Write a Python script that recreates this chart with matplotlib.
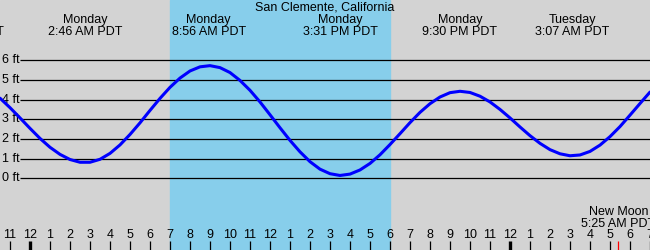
#!/usr/bin/env python3
# -*- coding: utf-8 -*-
"""
San Clemente tide chart: tide height (ft) vs hour, day shading, hour ticks.
"""
import matplotlib
matplotlib.use('Agg')
import matplotlib.pyplot as plt

# hours since Monday 00:00, half-hour steps
hours = [-1.5, -1.0, -0.5, 0.0, 0.5, 1.0, 1.5, 2.0, 2.5, 3.0, 3.5, 4.0, 4.5,
         5.0, 5.5, 6.0, 6.5, 7.0, 7.5, 8.0, 8.5, 9.0, 9.5, 10.0, 10.5, 11.0,
         11.5, 12.0, 12.5, 13.0, 13.5, 14.0, 14.5, 15.0, 15.5, 16.0, 16.5,
         17.0, 17.5, 18.0, 18.5, 19.0, 19.5, 20.0, 20.5, 21.0, 21.5, 22.0,
         22.5, 23.0, 23.5, 24.0, 24.5, 25.0, 25.5, 26.0, 26.5, 27.0, 27.5,
         28.0, 28.5, 29.0, 29.5, 30.0, 30.5, 31.0]
height_ft = [4.07, 3.59, 3.07, 2.54, 2.03, 1.58, 1.22, 0.96, 0.82, 0.82, 0.97,
             1.27, 1.70, 2.23, 2.82, 3.45, 4.06, 4.62, 5.09, 5.45, 5.66, 5.72,
             5.62, 5.37, 4.97, 4.47, 3.88, 3.23, 2.57, 1.93, 1.35, 0.85, 0.47,
             0.24, 0.15, 0.22, 0.43, 0.76, 1.20, 1.72, 2.27, 2.83, 3.35, 3.79,
             4.13, 4.35, 4.42, 4.36, 4.17, 3.88, 3.50, 3.07, 2.61, 2.17, 1.78,
             1.46, 1.25, 1.15, 1.19, 1.37, 1.69, 2.12, 2.63, 3.21, 3.80, 4.38]

# high / low tide labels (hour, day, time)
event_hours = [-3.2, 2.77, 8.93, 15.52, 21.5, 27.12]
event_days = ['Sunday', 'Monday', 'Monday', 'Monday', 'Monday', 'Tuesday']
event_times = ['8:48 PM PDT', '2:46 AM PDT', '8:56 AM PDT', '3:31 PM PDT',
               '9:30 PM PDT', '3:07 AM PDT']

daylight = (7.0, 18.0)
ft_levels = [0, 1, 2, 3, 4, 5, 6]
tick_hours = list(range(-1, 32))
midnights = [0, 24]
moon_hour = 29.42
moon_text = 'New Moon\n5:25 AM PDT'
title = 'San Clemente, California'

W, H = 650, 250
FONT = 'Liberation Sans'


def fy(p):
    # pixel row -> axes fraction
    return 1 - p / H


fig = plt.figure(figsize=(W / 100, H / 100), dpi=100)
ax = fig.add_axes([0, 0, 1, 1])
ax.set_facecolor('#d3d3d3')
ax.set_xlim(-1.5, 31.0)
ax.set_ylim(-3.63, 9.05)
ax.axis('off')
ax.add_patch(plt.Rectangle((0, 0), 1, 1, transform=ax.transAxes,
                           color='#d3d3d3', zorder=0))

# daylight band
ax.axvspan(daylight[0], daylight[1], color='#87ceeb', zorder=1)

# ft grid lines + labels
for lv in ft_levels:
    ax.hlines(lv, -0.5, 31.0, color='black', lw=0.9, zorder=2)
    ax.text(-1.4, lv, f'{lv} ft', ha='left', va='center', fontsize=9,
            family=FONT, zorder=3)

# tide curve
ax.plot(hours, height_ft, color='#0000ff', lw=2.2, zorder=4,
        solid_capstyle='round')

# title + event labels
ax.text(0.5, fy(8), title, transform=ax.transAxes, ha='center',
        va='center', fontsize=9, family=FONT)
xt = ax.get_xaxis_transform()
for h, d, t in zip(event_hours, event_days, event_times):
    ax.text(h, fy(20), d, transform=xt, ha='center', va='center',
            fontsize=9, family=FONT)
    ax.text(h, fy(32), t, transform=xt, ha='center', va='center',
            fontsize=9, family=FONT)

# hour ticks along the bottom
for h in tick_hours:
    lab = str((h % 12) or 12)
    ax.text(h, fy(235), lab, transform=xt, ha='center', va='center',
            fontsize=9, family=FONT)
    lw = 2.4 if h in midnights else 0.9
    ax.vlines(h, 0, fy(241), transform=xt, color='black', lw=lw)

# moon phase
ax.vlines(moon_hour, 0, fy(241), transform=xt, color='red', lw=0.9)
ax.text(moon_hour, fy(218), moon_text, transform=xt, ha='center',
        va='center', fontsize=9, family=FONT, linespacing=1.0)

fig.savefig('out.png', dpi=100)
